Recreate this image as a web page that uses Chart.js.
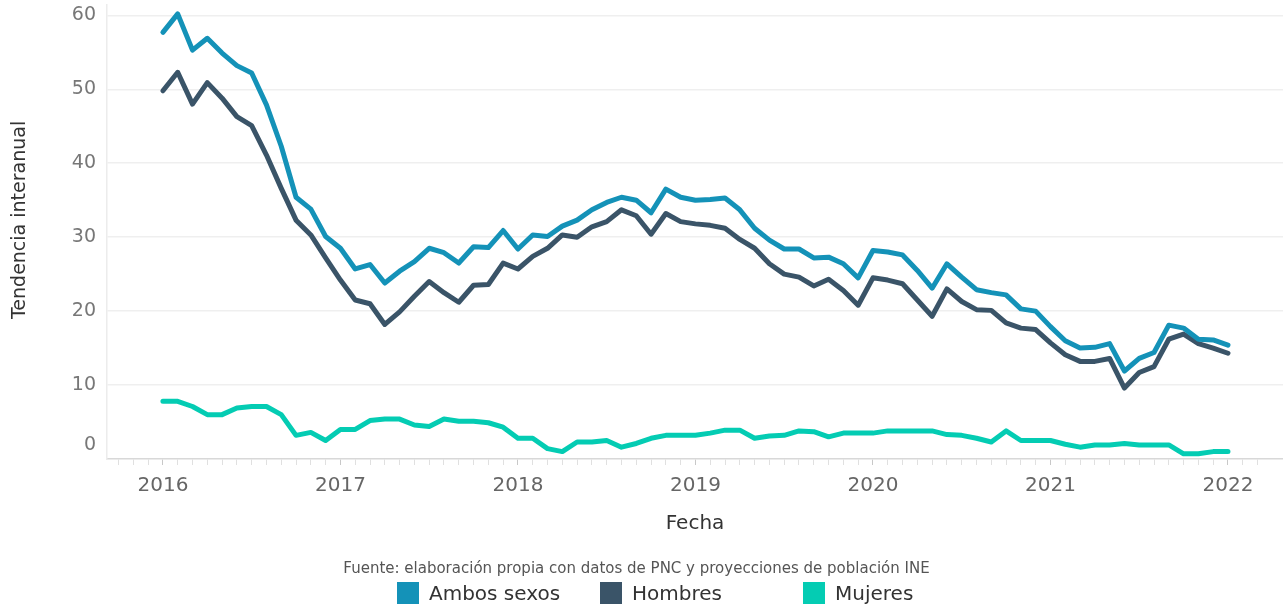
<!DOCTYPE html>
<html>
<head>
<meta charset="utf-8">
<script src="https://cdn.jsdelivr.net/npm/chart.js@4/dist/chart.umd.min.js"></script>
<style>
    body { margin: 0; background: #fff; font-family: 'DejaVu Sans', sans-serif; }
    #wrap { position: relative; width: 1283px; height: 607px; }
    #fuente { position: absolute; left: 0; width: 1273px; top: 559px; text-align: center; font-size: 15px; line-height: 18px; color: #555; }
    #leyenda { position: absolute; left: 397px; top: 582px; display: flex; }
    .item { width: 203px; display: flex; align-items: center; font-size: 20px; color: #333; line-height: 22px; }
    .caja { width: 22px; height: 22px; margin-right: 10px; }
</style>
</head>
<body>
<div id="wrap">
    <canvas id="chart" width="1283" height="607"></canvas>
    <div id="fuente">Fuente: elaboración propia con datos de PNC y proyecciones de población INE</div>
    <div id="leyenda"></div>
</div>
<script>
/* datos: tendencia interanual mensual, ene 2016 - ene 2022 */
const fechas = [
    '2016-01','2016-02','2016-03','2016-04','2016-05','2016-06','2016-07','2016-08','2016-09','2016-10','2016-11','2016-12',
    '2017-01','2017-02','2017-03','2017-04','2017-05','2017-06','2017-07','2017-08','2017-09','2017-10','2017-11','2017-12',
    '2018-01','2018-02','2018-03','2018-04','2018-05','2018-06','2018-07','2018-08','2018-09','2018-10','2018-11','2018-12',
    '2019-01','2019-02','2019-03','2019-04','2019-05','2019-06','2019-07','2019-08','2019-09','2019-10','2019-11','2019-12',
    '2020-01','2020-02','2020-03','2020-04','2020-05','2020-06','2020-07','2020-08','2020-09','2020-10','2020-11','2020-12',
    '2021-01','2021-02','2021-03','2021-04','2021-05','2021-06','2021-07','2021-08','2021-09','2021-10','2021-11','2021-12',
    '2022-01'
];

const ambosSexos = [
    57.7, 60.2, 55.3, 56.9, 54.9, 53.2, 52.2, 47.9, 42.3, 35.4, 33.8, 30.1,
    28.5, 25.7, 26.3, 23.8, 25.4, 26.7, 28.5, 27.9, 26.5, 28.7, 28.6, 30.9,
    28.4, 30.3, 30.1, 31.5, 32.3, 33.7, 34.7, 35.4, 35.0, 33.3, 36.5, 35.4,
    35.0, 35.1, 35.3, 33.7, 31.2, 29.6, 28.4, 28.4, 27.2, 27.3, 26.4, 24.5,
    28.2, 28.0, 27.6, 25.5, 23.1, 26.4, 24.6, 22.9, 22.5, 22.2, 20.3, 20.0,
    17.9, 16.0, 15.0, 15.1, 15.6, 11.9, 13.6, 14.4, 18.1, 17.7, 16.2, 16.1,
    15.4
];

const hombres = [
    49.8, 52.3, 48.0, 50.9, 48.8, 46.3, 45.1, 41.1, 36.6, 32.3, 30.3, 27.2,
    24.2, 21.5, 21.0, 18.2, 19.9, 22.0, 24.0, 22.5, 21.2, 23.5, 23.6, 26.5,
    25.7, 27.4, 28.5, 30.3, 30.0, 31.4, 32.1, 33.7, 32.9, 30.4, 33.2, 32.1,
    31.8, 31.6, 31.2, 29.7, 28.5, 26.4, 25.0, 24.6, 23.4, 24.3, 22.8, 20.8,
    24.5, 24.2, 23.7, 21.5, 19.3, 23.0, 21.3, 20.2, 20.1, 18.4, 17.7, 17.5,
    15.7, 14.1, 13.2, 13.2, 13.6, 9.6, 11.7, 12.5, 16.2, 16.9, 15.6, 15.0,
    14.3
];

const mujeres = [
    7.8, 7.8, 7.1, 6.0, 6.0, 6.9, 7.1, 7.1, 6.0, 3.2, 3.6, 2.5,
    4.0, 4.0, 5.2, 5.4, 5.4, 4.6, 4.4, 5.4, 5.1, 5.1, 4.9, 4.3,
    2.8, 2.8, 1.4, 1.0, 2.3, 2.3, 2.5, 1.6, 2.1, 2.8, 3.2, 3.2,
    3.2, 3.5, 3.9, 3.9, 2.8, 3.1, 3.2, 3.8, 3.7, 3.0, 3.5, 3.5,
    3.5, 3.8, 3.8, 3.8, 3.8, 3.3, 3.2, 2.8, 2.3, 3.8, 2.5, 2.5,
    2.5, 2.0, 1.6, 1.9, 1.9, 2.1, 1.9, 1.9, 1.9, 0.7, 0.7, 1.0,
    1.0
];

const yTicks = [0, 10, 20, 30, 40, 50, 60];
const xYears = [2016, 2017, 2018, 2019, 2020, 2021, 2022];

const series = [
    { nombre: 'Ambos sexos', datos: ambosSexos, color: '#1492b8' },
    { nombre: 'Hombres', datos: hombres, color: '#3a5468' },
    { nombre: 'Mujeres', datos: mujeres, color: '#04ccb3' }
];

const FONT = "'DejaVu Sans', sans-serif";
const X_MIN = 2015.685;
const X_MAX = 2022.31;

// '2016-03' -> 2016.1667
function fechaANumero(f) {
    const [a, m] = f.split('-').map(Number);
    return a + (m - 1) / 12;
}

function buildDatasets() {
    return series.map(s => ({
        label: s.nombre,
        data: s.datos.map((v, i) => ({ x: fechaANumero(fechas[i]), y: v })),
        borderColor: s.color,
        backgroundColor: s.color,
        borderWidth: 5,
        pointRadius: 0,
        tension: 0,
        borderJoinStyle: 'round',
        borderCapStyle: 'round',
        fill: false
    }));
}

function renderLegend() {
    const leyenda = document.getElementById('leyenda');
    series.forEach(s => {
        const item = document.createElement('div');
        item.className = 'item';
        item.innerHTML = `<span class="caja" style="background:${s.color}"></span><span>${s.nombre}</span>`;
        leyenda.appendChild(item);
    });
}

const esAnio = v => Math.abs(v - Math.round(v)) < 1e-6;

new Chart(document.getElementById('chart'), {
    type: 'line',
    data: { datasets: buildDatasets() },
    options: {
        responsive: false,
        animation: false,
        layout: { padding: { top: 5, right: 0, bottom: 68, left: 0 } },
        plugins: { legend: { display: false }, tooltip: { enabled: false } },
        scales: {
            x: {
                type: 'linear',
                min: X_MIN,
                max: X_MAX,
                afterBuildTicks: scale => {
                    // marca mensual oct 2015 - mar 2022
                    const ticks = [];
                    for (let m = 9; m <= 7 * 12 + 2; m++) ticks.push({ value: 2015 + m / 12 });
                    scale.ticks = ticks;
                },
                afterFit: scale => { scale.height = 80; },
                grid: {
                    drawOnChartArea: false,
                    drawTicks: true,
                    tickLength: 6,
                    tickWidth: 1,
                    tickColor: ctx => esAnio(ctx.tick.value) ? '#c8c8c8' : '#e0e0e0'
                },
                border: { display: true, color: '#d8d8d8', width: 1.5, dash: [3, 3] },
                ticks: {
                    autoSkip: false,
                    maxRotation: 0,
                    padding: 9,
                    color: '#666',
                    font: { family: FONT, size: 20 },
                    callback: v => {
                        const a = Math.round(v);
                        return esAnio(v) && xYears.includes(a) ? String(a) : '';
                    }
                },
                title: {
                    display: true,
                    text: 'Fecha',
                    color: '#333',
                    font: { family: FONT, size: 20 },
                    padding: { top: 0, bottom: 3 }
                }
            },
            y: {
                min: 0,
                max: 61.4,
                afterBuildTicks: scale => { scale.ticks = yTicks.map(v => ({ value: v })); },
                afterFit: scale => {
                    scale.width = 107;
                    scale.paddingTop = 0;
                    scale.paddingBottom = 0;
                },
                grid: {
                    drawTicks: false,
                    lineWidth: 1.5,
                    color: ctx => ctx.tick && ctx.tick.value === 0 ? 'rgba(0,0,0,0)' : '#efefef'
                },
                border: { display: true, color: '#ececec', width: 1.5 },
                ticks: {
                    padding: 11,
                    color: '#777',
                    font: { family: FONT, size: 19, lineHeight: '28px' },
                    // el 0 sube para quedar dentro del eje
                    callback: v => v === 0 ? ['0', ''] : String(v)
                },
                title: {
                    display: true,
                    // espacios iniciales: sube el titulo un poco
                    text: '    Tendencia interanual',
                    color: '#333',
                    font: { family: FONT, size: 19 },
                    padding: { top: 9, bottom: 0 }
                }
            }
        }
    }
});

renderLegend();
</script>
</body>
</html>
